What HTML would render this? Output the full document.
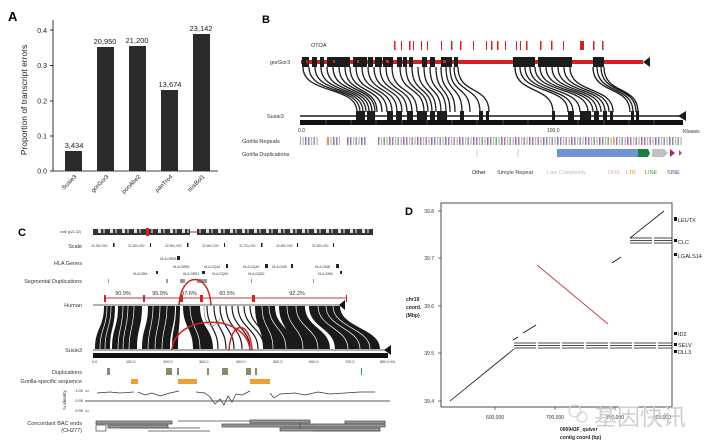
<!DOCTYPE html>
<html><head><meta charset="utf-8"><style>
html,body{margin:0;padding:0;background:#fff;}
svg{display:block;font-family:"Liberation Sans","Noto Sans CJK SC",sans-serif;}
</style></head><body>
<svg width="710" height="447" viewBox="0 0 710 447" xmlns="http://www.w3.org/2000/svg">
<defs>
<pattern id="rep" width="14" height="8" patternUnits="userSpaceOnUse">
<rect x="0" y="0" width="1.5" height="8" fill="#8a6a9a"/>
<rect x="3" y="0" width="1.2" height="8" fill="#b0a0b8"/>
<rect x="5.5" y="0" width="1.5" height="8" fill="#6a9a6a"/>
<rect x="8.5" y="0" width="1.2" height="8" fill="#c090b0"/>
<rect x="11" y="0" width="1.5" height="8" fill="#7a5a8a"/>
</pattern>
<pattern id="ideo" width="12" height="6" patternUnits="userSpaceOnUse">
<rect width="12" height="6" fill="#333"/><rect x="2" y="1" width="3" height="4" fill="#ddd"/><rect x="7" y="1" width="2" height="4" fill="#999"/>
</pattern>
</defs>

<!-- Panel A -->
<text x="8" y="21" font-size="13" font-weight="bold">A</text>
<line x1="53" y1="20" x2="53" y2="171" stroke="#000" stroke-width="0.8"/>
<line x1="53" y1="171" x2="218" y2="171" stroke="#000" stroke-width="0.8"/>
<g font-size="7" text-anchor="end" fill="#222">
<text x="47" y="173.5">0.0</text><text x="47" y="138.5">0.1</text><text x="47" y="103.5">0.2</text><text x="47" y="68">0.3</text><text x="47" y="33">0.4</text>
</g>
<g stroke="#000" stroke-width="0.8"><line x1="50" y1="171" x2="53" y2="171"/><line x1="50" y1="136" x2="53" y2="136"/><line x1="50" y1="101" x2="53" y2="101"/><line x1="50" y1="65.5" x2="53" y2="65.5"/><line x1="50" y1="30" x2="53" y2="30"/></g>
<text transform="translate(27,100) rotate(-90)" font-size="8.5" text-anchor="middle" fill="#222">Proportion of transcript errors</text>
<g fill="#2b2b2b">
<rect x="65" y="151" width="17" height="20"/><rect x="97" y="47" width="17" height="124"/><rect x="129" y="46" width="17" height="125"/><rect x="161" y="90" width="17" height="81"/><rect x="193" y="34" width="17" height="137"/>
</g>
<g font-size="7.5" text-anchor="middle" fill="#222">
<text x="74" y="148">3,434</text><text x="105" y="44">20,950</text><text x="137" y="43">21,200</text><text x="170" y="87">13,674</text><text x="201" y="31">23,142</text>
</g>
<g font-size="6" text-anchor="end" fill="#222">
<text transform="translate(77,177) rotate(-45)">Susie3</text>
<text transform="translate(109,177) rotate(-45)">gorGor3</text>
<text transform="translate(141,177) rotate(-45)">ponAbe2</text>
<text transform="translate(173,177) rotate(-45)">panTro4</text>
<text transform="translate(205,177) rotate(-45)">susBol1</text>
</g>

<!-- Panel B -->
<text x="262" y="23" font-size="11" font-weight="bold">B</text>
<text x="311" y="47" font-size="5.5" fill="#333">OTOA</text>
<text x="270" y="64" font-size="5.5" fill="#333">gorGor3</text>
<text x="267" y="118" font-size="5.5" fill="#333">Susie3</text>
<g fill="#d42020">
<rect x="394" y="41" width="1.5" height="9"/><rect x="401" y="41" width="1" height="9"/><rect x="409" y="41" width="1.5" height="9"/><rect x="413" y="41" width="1" height="9"/><rect x="421" y="41" width="1" height="9"/><rect x="427" y="41" width="1" height="9"/><rect x="441" y="41" width="1" height="9"/><rect x="451" y="41" width="1.5" height="9"/><rect x="460" y="41" width="1.5" height="9"/><rect x="473" y="41" width="1" height="9"/><rect x="486" y="41" width="1" height="9"/><rect x="491" y="41" width="1.5" height="9"/><rect x="497" y="41" width="1.5" height="9"/><rect x="505" y="41" width="1" height="9"/><rect x="516" y="41" width="1" height="9"/><rect x="520" y="41" width="1" height="9"/><rect x="526" y="41" width="1.5" height="9"/><rect x="540" y="41" width="1.5" height="9"/><rect x="551" y="41" width="1.5" height="9"/><rect x="563" y="41" width="1" height="9"/><rect x="580" y="41" width="4" height="9"/><rect x="593" y="41" width="1.5" height="9"/><rect x="602" y="41" width="1.5" height="9"/>
</g>
<rect x="301" y="60" width="342" height="4" fill="#d42020"/>
<g fill="#1c1c1c">
<rect x="302" y="57" width="7" height="10"/><rect x="312" y="57" width="5" height="10"/><rect x="320" y="57" width="4" height="10"/><rect x="327" y="57" width="23" height="10"/><rect x="353" y="57" width="14" height="10"/><rect x="368" y="57" width="5" height="10"/><rect x="375" y="57" width="7" height="10"/><rect x="383" y="57" width="10" height="10"/><rect x="397" y="57" width="5" height="10"/><rect x="403" y="57" width="4" height="10"/><rect x="409" y="57" width="4" height="10"/><rect x="422" y="57" width="5" height="10"/><rect x="430" y="57" width="5" height="10"/><rect x="441" y="57" width="11" height="10"/><rect x="454" y="57" width="4" height="10"/><rect x="513" y="57" width="22" height="10"/><rect x="538" y="57" width="34" height="10"/><rect x="593" y="57" width="11" height="10"/>
</g>
<g fill="#d42020"><rect x="306" y="60" width="2" height="3"/><rect x="333" y="60" width="2" height="3"/><rect x="357" y="60" width="2" height="3"/><rect x="386" y="60" width="3" height="3"/><rect x="443" y="60" width="3" height="3"/></g>
<polygon points="643,62 650,57 650,67" fill="#1c1c1c"/>
<g fill="none" stroke="#1c1c1c" stroke-width="1.3">
<path d="M303 67C303 95 357 85 357 112M309 67C309 95 360 85 360 112M315 67C315 95 363 85 363 112M321 67C321 95 366 85 366 112M327 67C327 95 369 85 369 112M333 67C333 95 372 85 372 112M339 67C339 95 375 85 375 112M345 67C345 95 377 85 377 112"/>
<path d="M350 67C350 95 382 85 382 112M356 67C356 95 387 85 387 112M362 67C362 95 392 85 392 112M368 67C368 95 397 85 397 112M374 67C374 95 402 85 402 112M380 67C380 95 407 85 407 112M386 67C386 95 412 85 412 112M392 67C392 95 417 85 417 112"/>
<path d="M400 67C400 95 424 85 424 112M406 67C406 95 428 85 428 112M412 67C412 95 432 85 432 112M418 67C418 95 436 85 436 112M424 67C424 95 441 85 441 112M430 67C430 95 446 85 446 112M436 67C436 95 450 85 450 112M441 67C441 95 455 85 455 112"/>
<path d="M446 67C446 95 462 85 462 112M450 67C450 95 470 85 470 112M454 67C454 95 480 85 480 112M458 67C458 95 489 85 489 112"/>
<path d="M515 67C515 95 553 85 553 112M520 67C520 95 568 85 568 112M525 67C525 95 573 85 573 112M530 67C530 95 580 85 580 112M535 67C535 95 588 85 588 112"/>
<path d="M540 67C540 95 593 85 593 112M546 67C546 95 597 85 597 112M552 67C552 95 601 85 601 112M558 67C558 95 605 85 605 112M564 67C564 95 609 85 609 112M570 67C570 95 613 85 613 112"/>
<path d="M593 67C593 95 630 85 630 112M597 67C597 95 633 85 633 112M601 67C601 95 636 85 636 112M604 67C604 95 638 85 638 112"/>
</g>
<line x1="300" y1="116" x2="683" y2="116" stroke="#1c1c1c" stroke-width="1.5"/>
<polygon points="678,116 686,111 686,121" fill="#1c1c1c"/>
<g fill="#1c1c1c">
<rect x="356" y="111" width="9" height="10"/><rect x="367" y="111" width="8" height="10"/><rect x="387" y="111" width="6" height="10"/><rect x="396" y="111" width="6" height="10"/><rect x="407" y="111" width="6" height="10"/><rect x="417" y="111" width="10" height="10"/><rect x="430" y="111" width="5" height="10"/><rect x="437" y="111" width="10" height="10"/><rect x="460" y="111" width="4" height="10"/><rect x="479" y="111" width="4" height="10"/><rect x="486" y="111" width="3" height="10"/><rect x="552" y="111" width="3" height="10"/><rect x="568" y="111" width="6" height="10"/><rect x="580" y="111" width="11" height="10"/><rect x="594" y="111" width="5" height="10"/><rect x="603" y="111" width="4" height="10"/><rect x="610" y="111" width="3" height="10"/><rect x="631" y="111" width="3" height="10"/><rect x="636" y="111" width="3" height="10"/>
</g>
<rect x="300" y="120" width="383" height="5" fill="#111"/>
<g stroke="#888" stroke-width="0.5"><line x1="326" y1="120" x2="326" y2="125"/><line x1="351" y1="120" x2="351" y2="125"/><line x1="376" y1="120" x2="376" y2="125"/><line x1="402" y1="120" x2="402" y2="125"/><line x1="427" y1="120" x2="427" y2="125"/><line x1="452" y1="120" x2="452" y2="125"/><line x1="477" y1="120" x2="477" y2="125"/><line x1="503" y1="120" x2="503" y2="125"/><line x1="528" y1="120" x2="528" y2="125"/><line x1="578" y1="120" x2="578" y2="125"/><line x1="604" y1="120" x2="604" y2="125"/><line x1="629" y1="120" x2="629" y2="125"/><line x1="654" y1="120" x2="654" y2="125"/></g>
<g font-size="5" fill="#333"><text x="298" y="132">0.0</text><text x="547" y="132">100.0</text><text x="683" y="133">Kbases</text></g>
<text x="242" y="143" font-size="5.5" fill="#333">Gorilla Repeats</text>
<text x="242" y="156" font-size="5.5" fill="#333">Gorilla Duplications</text>
<rect x="300" y="137" width="383" height="8" fill="url(#rep)" opacity="0.85"/>
<rect x="318" y="137" width="8" height="8" fill="#fff"/><rect x="340" y="137" width="7" height="8" fill="#fff"/><rect x="366" y="137" width="12" height="8" fill="#fff"/>
<rect x="327" y="137" width="1.5" height="8" fill="#e0a030"/><rect x="613" y="137" width="1.5" height="8" fill="#e0a030"/>
<line x1="477" y1="149" x2="477" y2="157" stroke="#aaa" stroke-width="0.6"/><line x1="518" y1="149" x2="518" y2="157" stroke="#aaa" stroke-width="0.6"/>
<rect x="557" y="149" width="81" height="8" fill="#6f94cf"/>
<polygon points="638,149 648,149 650,153 648,157 638,157" fill="#1a8040"/>
<polygon points="652,149 664,149 668,153 664,157 652,157" fill="#c0c0c0"/>
<polygon points="670,149 675,153 670,157" fill="#b0206a"/>
<polygon points="679,150 682,153 679,156" fill="#e04040"/>
<g font-size="5.5"><text x="472" y="174" fill="#222">Other</text><text x="497" y="174" fill="#444">Simple Repeat</text><text x="547" y="174" fill="#bbb">Low Complexity</text><text x="608" y="174" fill="#f0a8c8">DNA</text><text x="626" y="174" fill="#e89a30">LTR</text><text x="645" y="174" fill="#40a050">LINE</text><text x="667" y="174" fill="#704090">SINE</text></g>

<!-- Panel C -->
<text x="18" y="236" font-size="11" font-weight="bold">C</text>
<text x="60" y="233" font-size="3.5" fill="#333">chr6 (p21.32)</text>
<rect x="93" y="229" width="97" height="6" fill="url(#ideo)"/>
<rect x="197" y="229" width="176" height="6" fill="url(#ideo)"/>
<rect x="146" y="228" width="3" height="8" fill="#d42020"/>
<path d="M190 232 L197 232" stroke="#d42020" stroke-width="1"/>
<g font-size="5.5" fill="#333" text-anchor="end"><text x="82" y="248">Scale</text><text x="82" y="265">HLA Genes</text><text x="82" y="283">Segmental Duplications</text><text x="82" y="307">Human</text><text x="82" y="352">Susie3</text><text x="82" y="374">Duplications</text><text x="82" y="383">Gorilla-specific sequence</text><text x="82" y="425">Concordant BAC ends</text><text x="82" y="432">(CH277)</text></g>
<text transform="translate(66,400) rotate(-90)" font-size="4.5" fill="#333" text-anchor="middle">% identity</text>
<g font-size="3.3" fill="#444"><text x="91" y="247">32,300,000</text><text x="128" y="247">32,400,000</text><text x="165" y="247">32,500,000</text><text x="202" y="247">32,600,000</text><text x="239" y="247">32,700,000</text><text x="276" y="247">32,800,000</text><text x="312" y="247">32,900,000</text></g>
<g fill="#222"><rect x="113" y="243" width="1.5" height="4"/><rect x="150" y="243" width="1" height="4"/><rect x="187" y="243" width="1.5" height="4"/><rect x="224" y="243" width="1" height="4"/><rect x="261" y="243" width="1.5" height="4"/><rect x="297" y="243" width="1" height="4"/><rect x="333" y="243" width="1" height="4"/></g>
<g font-size="3.3" fill="#335"><text x="160" y="260">HLA-DRB5</text><text x="173" y="268">HLA-DRB6</text><text x="204" y="268">HLA-DQA1</text><text x="243" y="268">HLA-DQA2</text><text x="272" y="268">HLA-DOB</text><text x="315" y="268">HLA-DMB</text><text x="133" y="275">HLA-DRA</text><text x="183" y="275">HLA-DRB1</text><text x="212" y="275">HLA-DQB1</text><text x="248" y="275">HLA-DQB2</text><text x="318" y="275">HLA-DMA</text></g>
<g fill="#223"><rect x="177" y="256" width="3" height="4"/><rect x="156" y="271" width="2" height="3"/><rect x="202" y="271" width="3" height="3"/><rect x="226" y="264" width="2" height="4"/><rect x="265" y="264" width="3" height="4"/><rect x="291" y="264" width="2" height="4"/><rect x="336" y="264" width="3" height="4"/><rect x="340" y="271" width="2" height="3"/></g>
<g fill="#999"><rect x="108" y="279" width="1" height="4"/><rect x="166" y="279" width="2" height="4"/><rect x="180" y="279" width="5" height="4"/><rect x="197" y="279" width="10" height="4"/><rect x="251" y="279" width="1" height="4"/><rect x="313" y="279" width="1" height="4"/></g>
<g font-size="5.5" fill="#333" text-anchor="middle"><text x="123" y="295">90.9%</text><text x="160" y="295">95.9%</text><text x="189" y="295">97.6%</text><text x="227" y="295">60.5%</text><text x="297" y="295">92.2%</text></g>
<line x1="105" y1="298" x2="347" y2="298" stroke="#b04040" stroke-width="1"/>
<g fill="#d42020"><rect x="104" y="295" width="2" height="7"/><rect x="143" y="295" width="2" height="7"/><rect x="180" y="295" width="3" height="7"/><rect x="200" y="295" width="3" height="7"/><rect x="252" y="295" width="3" height="7"/><rect x="346" y="295" width="1" height="7"/></g>
<path d="M179 305 C181 271 209 271 211 305" fill="none" stroke="#d42020" stroke-width="1.5"/>
<line x1="93" y1="305" x2="345" y2="305" stroke="#333" stroke-width="0.8"/>
<polygon points="339,305 345,300 345,310" fill="#111"/>
<g fill="#1a1a1a">
<path d="M104 306 L115 306 C115 328 110 328 110 349 L95 349 C95 328 104 328 104 306Z"/>
<path d="M118 306 L142 306 C142 328 137 328 137 349 L112 349 C112 328 118 328 118 306Z"/>
<path d="M148 306 L175 306 C175 328 170 328 170 349 L142 349 C142 328 148 328 148 306Z"/>
<path d="M176 306 L180 306 C180 328 178 328 178 349 L172 349 C172 328 176 328 176 306Z"/>
<path d="M183 306 L200 306 C200 328 213 328 213 349 L193 349 C193 328 183 328 183 306Z"/>
<path d="M255 306 L275 306 C275 328 295 328 295 349 L263 349 C263 328 255 328 255 306Z"/>
<path d="M279 306 L305 306 C305 328 330 328 330 349 L292 349 C292 328 279 328 279 306Z"/>
<path d="M309 306 L340 306 C340 328 380 328 380 349 L335 349 C335 328 309 328 309 306Z"/>
</g>
<g fill="none" stroke="#fff" stroke-width="0.7">
<path d="M107 306C107 328 100 328 100 349M111 306C111 328 105 328 105 349M123 306C123 328 118 328 118 349M128 306C128 328 123 328 123 349M134 306C134 328 129 328 129 349M153 306C153 328 148 328 148 349M160 306C160 328 155 328 155 349M167 306C167 328 162 328 162 349M190 306C190 328 200 328 200 349M262 306C262 328 273 328 273 349M269 306C269 328 286 328 286 349M287 306C287 328 303 328 303 349M296 306C296 328 318 328 318 349M318 306C318 328 348 328 348 349M326 306C326 328 360 328 360 349M333 306C333 328 370 328 370 349"/>
</g>
<g fill="none" stroke="#1a1a1a" stroke-width="1.2">
<path d="M207 306C207 328 218 328 218 349M214 306C214 328 226 328 226 349M220 306C220 328 234 328 234 349M226 306C226 328 242 328 242 349M232 306C232 328 250 328 250 349M238 306C238 328 258 328 258 349M244 306C244 328 264 328 264 349M250 306C250 328 270 328 270 349"/>
</g>
<path d="M204 306 C204 330 215 330 220 318" fill="none" stroke="#999" stroke-width="0.8"/>
<path d="M172 350 C175 313 247 313 250 350" fill="none" stroke="#d42020" stroke-width="1.5"/>
<path d="M229 350 C231 320 250 320 252 350" fill="none" stroke="#d42020" stroke-width="1.5"/>
<line x1="93" y1="350" x2="388" y2="350" stroke="#222" stroke-width="0.8"/>
<polygon points="384,350 391,345 391,355" fill="#111"/>
<rect x="93" y="353" width="295" height="5" fill="#111"/>
<g font-size="3.8" fill="#333"><text x="92" y="363">0.0</text><text x="126" y="363">100.0</text><text x="163" y="363">200.0</text><text x="199" y="363">300.0</text><text x="236" y="363">400.0</text><text x="273" y="363">500.0</text><text x="309" y="363">600.0</text><text x="345" y="363">700.0</text><text x="380" y="363">800.0 Kb</text></g>
<g fill="#8a8a70"><rect x="107" y="368" width="3" height="7"/><rect x="166" y="368" width="6" height="7"/><rect x="177" y="368" width="2" height="7"/><rect x="207" y="368" width="2" height="7"/><rect x="222" y="368" width="6" height="7"/><rect x="246" y="368" width="5" height="7"/><rect x="255" y="368" width="2" height="7"/></g>
<rect x="361" y="368" width="1" height="7" fill="#3a8aa0"/>
<g fill="#f0a030"><rect x="131" y="379" width="7" height="5"/><rect x="178" y="379" width="19" height="5"/><rect x="250" y="379" width="20" height="5"/></g>
<g font-size="4" fill="#333" text-anchor="end"><text x="83" y="392">1.00</text><text x="83" y="402">0.95</text><text x="83" y="412">0.90</text></g>
<line x1="85" y1="391" x2="89" y2="391" stroke="#333" stroke-width="0.6"/><line x1="85" y1="401" x2="390" y2="401" stroke="#222" stroke-width="0.8"/><line x1="85" y1="411" x2="89" y2="411" stroke="#333" stroke-width="0.6"/>
<path d="M97 393 L110 392 L120 393 L134 392 M138 392 L145 395 L152 393 L160 396 L170 393 L179 391 M196 392 L205 393 L210 397 L215 404 L220 399 L224 405 L228 396 L232 402 L236 394 L242 395 L250 391 M270 393 L274 398 L280 394 L295 393 L305 395 L318 392 L330 394 L345 393 L360 392 L375 392" fill="none" stroke="#333" stroke-width="0.7"/>
<g stroke="#444" stroke-width="0.7" fill="#999">
<rect x="96" y="421" width="76" height="3"/><rect x="108" y="425" width="60" height="3"/><rect x="96" y="425" width="10" height="6" fill="#fff"/><rect x="222" y="424" width="80" height="3"/><rect x="250" y="420" width="60" height="3"/><rect x="280" y="428" width="100" height="3"/><rect x="345" y="421" width="40" height="3"/><rect x="300" y="424" width="85" height="3"/>
<line x1="178" y1="421" x2="250" y2="421"/><line x1="120" y1="428" x2="200" y2="428"/><line x1="148" y1="431" x2="210" y2="431"/><line x1="313" y1="431" x2="380" y2="431"/>
</g>

<!-- Panel D -->
<text x="405" y="215" font-size="11" font-weight="bold">D</text>
<rect x="441" y="203" width="231" height="204" fill="none" stroke="#222" stroke-width="0.8"/>
<g font-size="5" fill="#333" text-anchor="end"><text x="434" y="213">39.8</text><text x="434" y="260">39.7</text><text x="434" y="308">39.6</text><text x="434" y="355">39.5</text><text x="434" y="403">39.4</text></g>
<g stroke="#222" stroke-width="0.6"><line x1="438" y1="211" x2="441" y2="211"/><line x1="438" y1="258" x2="441" y2="258"/><line x1="438" y1="306" x2="441" y2="306"/><line x1="438" y1="353" x2="441" y2="353"/><line x1="438" y1="401" x2="441" y2="401"/>
<line x1="495" y1="407" x2="495" y2="410"/><line x1="555" y1="407" x2="555" y2="410"/><line x1="615" y1="407" x2="615" y2="410"/></g>
<g font-size="5" fill="#333" text-anchor="middle"><text x="495" y="419">600,000</text><text x="555" y="419">700,000</text><text x="615" y="419">800,000</text><text x="662" y="419">900,000</text></g>
<g font-size="5" font-weight="bold" fill="#222"><text x="406" y="301">chr19</text><text x="406" y="309">coord.</text><text x="406" y="317">(Mbp)</text><text x="560" y="431">000943F_quiver</text><text x="560" y="439">contig coord (bp)</text></g>
<g stroke="#111" stroke-width="0.8"><line x1="450" y1="401" x2="514" y2="349"/><line x1="513" y1="340" x2="518" y2="337"/><line x1="523" y1="333" x2="536" y2="325"/><line x1="612" y1="263" x2="621" y2="257"/><line x1="630" y1="238" x2="664" y2="211"/></g>
<line x1="537" y1="265" x2="608" y2="324" stroke="#d03838" stroke-width="0.9"/>
<g stroke="#111" stroke-width="0.8" stroke-dasharray="22,2"><line x1="514" y1="343" x2="672" y2="343"/><line x1="514" y1="345.5" x2="672" y2="345.5"/><line x1="514" y1="348" x2="672" y2="348"/><line x1="630" y1="238" x2="672" y2="238"/><line x1="630" y1="240.5" x2="672" y2="240.5"/><line x1="630" y1="243" x2="672" y2="243"/></g>
<g font-size="5.5" fill="#222"><text x="678" y="222">LEUTX</text><text x="678" y="244">CLC</text><text x="678" y="258">LGALS14</text><text x="678" y="336">ID2</text><text x="678" y="347">SELV</text><text x="678" y="354">DLL3</text></g>
<g fill="#111"><rect x="674" y="217" width="3" height="4"/><rect x="674" y="239" width="3" height="3"/><rect x="674" y="253" width="3" height="3"/><rect x="674" y="332" width="3" height="3"/><rect x="674" y="343" width="3" height="3"/><rect x="674" y="350" width="3" height="3"/></g>
<circle cx="575" cy="411" r="6" fill="none" stroke="#ccc" stroke-width="1"/><circle cx="582" cy="417" r="5" fill="none" stroke="#ccc" stroke-width="1"/>
<text x="594" y="425" font-size="23" fill="#cfcfcf" font-family="'Noto Sans CJK SC',sans-serif">基因快讯</text>
</svg>
</body></html>
